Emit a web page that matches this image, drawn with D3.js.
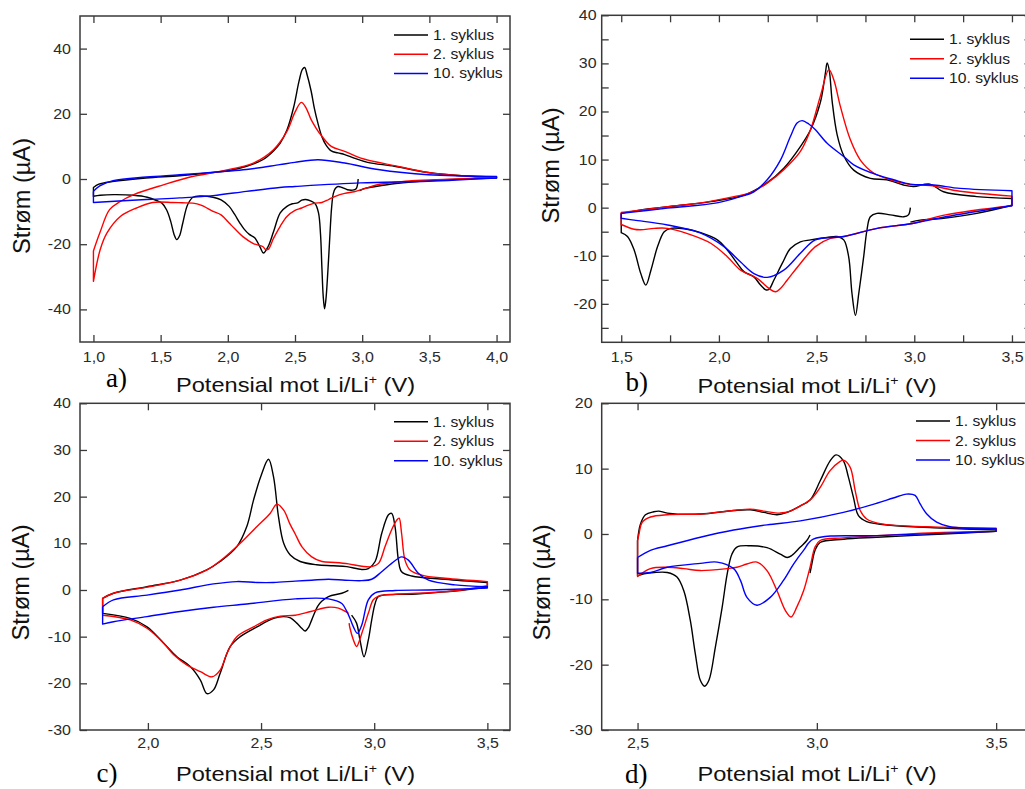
<!DOCTYPE html>
<html>
<head>
<meta charset="utf-8">
<script src="https://cdn.jsdelivr.net/npm/d3@7"></script>
<style>
  body { margin: 0; background: #fff; }
  svg { display: block; overflow: hidden; }
</style>
</head>
<body>
<svg id="fig" width="1025" height="789"></svg>
<script>
// ---- Series: cyclic voltammograms, [potential (V vs Li/Li+), current (µA)] ----
const sykluser = ["1. syklus", "2. syklus", "10. syklus"];
const farger = ["#000000", "#ff0000", "#0000ff"];

// Panel a
const aSyklus1 = [
  [2.97,0.0],[2.965,-1.8],[2.955,-3.0],[2.93,-3.4],[2.89,-3.3],[2.85,-2.6],[2.82,-2.3],[2.80,-2.9],
  [2.785,-4.5],[2.772,-9],[2.76,-17],[2.745,-28],[2.73,-37],[2.72,-39.8],[2.71,-36],[2.70,-27],
  [2.69,-17],[2.675,-10.4],[2.65,-7.6],[2.62,-6.8],[2.58,-6.3],[2.55,-6.5],[2.52,-7.3],[2.48,-7.6],
  [2.44,-8.4],[2.39,-10.4],[2.34,-16.2],[2.30,-20.7],[2.265,-22.7],[2.24,-20.9],[2.20,-18],[2.16,-17],
  [2.12,-15.3],[2.09,-13.5],[2.05,-10.8],[2.01,-8.4],[1.95,-6.4],[1.89,-5.6],[1.80,-5.2],[1.74,-5.6],
  [1.70,-8],[1.665,-13.5],[1.64,-17.5],[1.62,-18.6],[1.60,-17],[1.575,-13],[1.545,-9.5],[1.51,-7.4],
  [1.47,-6.6],[1.40,-5.6],[1.30,-5.0],[1.15,-4.8],[1.05,-5.0],[1.0,-5.3],[1.0,-2.6],[1.04,-1.6],
  [1.14,-0.8],[1.39,0.3],[1.64,1.0],[1.89,2.0],[2.01,2.6],[2.14,3.9],[2.26,5.9],[2.34,8.6],
  [2.39,11],[2.44,15],[2.49,22],[2.53,30],[2.555,33.6],[2.572,34.2],[2.59,32],[2.62,27],
  [2.645,21.5],[2.67,17.2],[2.70,13],[2.73,10.5],[2.77,8.6],[2.82,8.0],[2.87,7.5],[2.94,6.4],
  [3.04,5.1],[3.24,3.9],[3.49,2.0],[3.74,1.0],[4.0,0.6],[4.0,0.3],[3.75,0.0],[3.5,-0.5],
  [3.25,-1.4],[3.1,-2.3],[3.02,-2.9],[2.98,-3.6]
];
const aSyklus2 = [
  [4.0,0.5],[3.75,0.1],[3.5,-0.3],[3.37,-0.5],[3.25,-1.0],[3.12,-1.7],[3.0,-3.2],[2.94,-3.9],
  [2.87,-4.4],[2.80,-5.3],[2.75,-6.3],[2.70,-7.2],[2.65,-7.4],[2.60,-8.0],[2.55,-8.9],[2.50,-9.6],
  [2.44,-11.5],[2.39,-14.5],[2.34,-18.2],[2.30,-21.6],[2.28,-21.6],[2.26,-20.7],[2.19,-19.8],[2.11,-17.6],
  [2.05,-15.2],[2.01,-13.5],[1.95,-11],[1.89,-9.9],[1.80,-8],[1.74,-7.4],[1.66,-7.3],[1.59,-7.2],
  [1.44,-7.2],[1.32,-8.9],[1.20,-11.5],[1.10,-16.6],[1.05,-21.7],[1.0,-31.4],[1.0,-22.1],[1.047,-16.6],
  [1.12,-9.4],[1.20,-6.9],[1.30,-4.8],[1.52,-1.8],[1.72,0.6],[1.96,2.5],[2.19,4.9],[2.34,9.0],
  [2.44,14.6],[2.50,20.5],[2.547,23.5],[2.58,22],[2.62,18.2],[2.66,15.4],[2.70,13.1],[2.77,10],
  [2.87,8.5],[2.99,6.4],[3.24,4.1],[3.49,2.0],[3.74,1.0],[4.0,0.6]
];
const aSyklus10 = [
  [1.0,-3.8],[1.047,-2.1],[1.146,-0.5],[1.394,0.6],[1.642,1.3],[1.964,2.3],[2.138,2.9],[2.386,4.4],
  [2.498,5.1],[2.671,5.9],[2.87,4.9],[3.118,2.9],[3.49,1.3],[4.0,0.8],[4.0,0.3],[3.49,-0.7],
  [2.99,-1.2],[2.498,-2.3],[2.386,-2.6],[2.138,-3.8],[1.89,-5.1],[1.642,-5.8],[1.394,-6.3],[1.0,-7.2],
  [1.0,-3.8]
];

// Panel b
const bSyklus1 = [
  [2.98,0.0],[2.97,-1.5],[2.946,-1.9],[2.877,-1.5],[2.809,-1.2],[2.775,-1.9],[2.758,-4.6],[2.741,-10.2],
  [2.716,-17.8],[2.699,-22.4],[2.681,-17.8],[2.664,-10.2],[2.639,-6.7],[2.605,-6.0],[2.554,-6.2],[2.469,-6.7],
  [2.417,-7.1],[2.366,-8.5],[2.324,-11.6],[2.281,-15.1],[2.256,-17.0],[2.24,-17.1],[2.213,-16.1],[2.179,-14.4],
  [2.128,-13.3],[2.094,-11.6],[2.043,-8.8],[1.992,-6.7],[1.907,-5.2],[1.822,-4.4],[1.754,-4.3],[1.72,-5.0],
  [1.686,-8.1],[1.652,-13],[1.626,-16.1],[1.6,-13.7],[1.566,-8.8],[1.532,-6.0],[1.5,-5.2],[1.5,-1.2],
  [1.617,-0.35],[1.788,0.4],[1.958,1.25],[2.128,2.6],[2.247,5.2],[2.332,8.2],[2.417,12.7],[2.469,16.2],
  [2.52,22],[2.545,28],[2.554,30.1],[2.565,28.5],[2.58,22],[2.605,15.2],[2.639,10.8],[2.69,7.8],
  [2.775,6.1],[2.86,5.8],[2.945,4.7],[2.996,4.4],[3.08,4.9],[3.15,3.3],[3.32,2.3],[3.5,1.9],
  [3.5,0.5],[3.32,-1.2],[3.15,-2.2],[3.03,-2.6],[2.98,-3.0]
];
const bSyklus2 = [
  [3.5,0.4],[3.16,-1.5],[2.99,-3.3],[2.81,-4.3],[2.639,-6.0],[2.571,-6.4],[2.494,-8.1],[2.417,-11.6],
  [2.349,-15.1],[2.315,-16.8],[2.29,-17.5],[2.256,-16.8],[2.196,-14.7],[2.111,-13.0],[2.043,-10.2],[1.958,-7.4],
  [1.839,-5.4],[1.737,-4.3],[1.669,-4.3],[1.6,-4.6],[1.566,-4.5],[1.5,-3.5],[1.5,-1.0],[1.566,-0.7],
  [1.737,0.2],[1.907,1.0],[2.077,2.3],[2.162,3.1],[2.247,5.1],[2.332,7.9],[2.417,11.7],[2.469,16.2],
  [2.52,23.3],[2.563,28.7],[2.588,26.6],[2.622,21],[2.673,14.1],[2.724,9.9],[2.792,7.2],[2.877,5.8],
  [2.98,4.8],[3.08,4.6],[3.235,3.4],[3.5,2.4],[3.5,0.4]
];
const bSyklus10 = [
  [1.5,-1.2],[1.737,-0.1],[1.99,1.0],[2.11,2.3],[2.179,3.3],[2.247,5.8],[2.315,9.9],[2.366,14.8],
  [2.40,17.6],[2.426,18.1],[2.46,17.4],[2.494,16.2],[2.554,13.4],[2.64,10.6],[2.69,8.9],[2.81,6.8],
  [2.894,5.8],[2.98,4.9],[3.1,4.7],[3.235,4.0],[3.5,3.5],[3.5,0.4],[3.16,-1.9],[2.99,-3.3],
  [2.81,-4.3],[2.64,-6.0],[2.494,-6.7],[2.417,-9.5],[2.332,-13.0],[2.247,-14.5],[2.179,-13.7],[2.111,-11.3],
  [2.026,-8.1],[1.907,-5.3],[1.737,-3.6],[1.566,-2.6],[1.5,-2.2],[1.5,-1.2]
];

// Panel c
const cSyklus1 = [
  [2.886,-0.1],[2.857,-0.7],[2.798,-1.4],[2.768,-2.4],[2.75,-3.5],[2.724,-6.4],[2.71,-8.0],[2.695,-8.8],
  [2.68,-8.2],[2.658,-7.1],[2.63,-6.0],[2.6,-5.7],[2.555,-6.1],[2.482,-7.9],[2.408,-10.0],[2.364,-12.1],
  [2.319,-17.9],[2.29,-21.4],[2.261,-22.2],[2.232,-19.3],[2.187,-16.4],[2.128,-14.3],[2.07,-11.4],[1.996,-7.9],
  [1.922,-6.1],[1.8,-5.0],[1.8,-1.8],[1.848,-0.7],[1.996,0.7],[2.143,2.1],[2.26,4.3],[2.319,6.1],
  [2.393,9.3],[2.437,13.6],[2.467,19.3],[2.50,24.5],[2.533,28.0],[2.555,24.3],[2.577,15.7],[2.60,10.0],
  [2.629,7.5],[2.673,6.1],[2.746,5.4],[2.82,5.2],[2.879,5.0],[2.945,4.4],[2.974,4.6],[3.004,6.1],
  [3.033,12.1],[3.063,16.1],[3.077,16.4],[3.092,13.6],[3.107,6.4],[3.121,3.9],[3.166,3.0],[3.313,2.3],
  [3.5,1.6],[3.5,0.6],[3.313,-0.4],[3.166,-0.9],[3.019,-1.4],[3.004,-2.9],[2.989,-6.4],[2.974,-10.7],
  [2.955,-14.3],[2.937,-10.7],[2.922,-7.1],[2.90,-5.4]
];
const cSyklus2 = [
  [2.886,-5.0],[2.872,-4.6],[2.842,-3.9],[2.798,-3.7],[2.72,-4.6],[2.651,-5.4],[2.585,-5.6],[2.526,-6.4],
  [2.467,-7.9],[2.393,-10.0],[2.349,-13.6],[2.32,-17.1],[2.283,-18.6],[2.232,-17.5],[2.173,-16.1],[2.114,-13.9],
  [2.07,-11.4],[1.996,-8.2],[1.922,-6.4],[1.8,-5.4],[1.8,-1.8],[1.848,-0.7],[1.996,0.6],[2.143,2.1],
  [2.261,4.3],[2.334,6.8],[2.408,10],[2.482,13.6],[2.54,16.4],[2.57,18.4],[2.60,17.1],[2.629,14],
  [2.651,12],[2.68,9.3],[2.724,7.1],[2.769,6.1],[2.828,5.9],[2.886,5.6],[2.945,5.1],[2.989,5.0],
  [3.019,5.7],[3.048,9.3],[3.077,12.9],[3.10,15.0],[3.11,15.4],[3.121,12.1],[3.136,6.4],[3.158,4.3],
  [3.21,3.2],[3.313,2.5],[3.5,1.8],[3.5,0.9],[3.387,0],[3.24,-0.6],[3.092,-0.9],[3.019,-1.3],
  [2.996,-2.1],[2.974,-5.0],[2.945,-9.3],[2.922,-12.1],[2.908,-10.7],[2.893,-8.2],[2.889,-7.1]
];
const cSyklus10 = [
  [1.8,-3.6],[1.848,-2.1],[1.996,-1.1],[2.143,0],[2.29,1.3],[2.393,1.8],[2.482,1.6],[2.555,1.6],
  [2.651,1.9],[2.724,2.1],[2.798,2.3],[2.872,2.1],[2.945,2.0],[2.989,2.3],[3.033,3.9],[3.077,5.7],
  [3.121,7.1],[3.151,6.4],[3.195,3.6],[3.24,2.1],[3.357,1.1],[3.5,0.7],[3.5,0.4],[3.24,0],
  [3.092,-0.1],[3.004,-0.6],[2.974,-2.1],[2.945,-7.5],[2.926,-9.3],[2.908,-7.9],[2.893,-6.1],[2.879,-4.6],
  [2.857,-2.9],[2.798,-1.9],[2.651,-1.9],[2.437,-3.0],[2.29,-3.7],[2.143,-4.6],[1.996,-5.7],[1.848,-6.8],
  [1.8,-7.3],[1.8,-3.6]
];

// Panel d
const dSyklus1 = [
  [2.981,-0.15],[2.972,-1.0],[2.954,-2.0],[2.93,-3.3],[2.917,-3.6],[2.898,-3.1],[2.861,-2.1],[2.815,-1.8],
  [2.777,-2.0],[2.763,-3.1],[2.75,-6.1],[2.736,-11.2],[2.717,-17.3],[2.699,-22.4],[2.687,-23.3],[2.675,-22.4],
  [2.661,-18.3],[2.647,-13.2],[2.629,-8.7],[2.61,-6.6],[2.583,-5.9],[2.546,-5.9],[2.518,-6.1],[2.5,-6.4],
  [2.5,-1.0],[2.508,1.5],[2.522,2.95],[2.545,3.4],[2.559,3.5],[2.583,3.2],[2.675,3.05],[2.768,3.6],
  [2.815,3.7],[2.852,3.3],[2.889,2.95],[2.917,3.3],[2.954,4.3],[2.981,5.2],[3.009,8.1],[3.037,11.2],
  [3.054,12.1],[3.074,11.2],[3.088,8.7],[3.102,5.6],[3.116,2.8],[3.139,1.9],[3.213,1.3],[3.352,0.9],
  [3.5,0.6],[3.5,0.4],[3.352,0],[3.167,-0.5],[3.074,-0.8],[3.009,-1.3],[2.995,-2.5],[2.986,-4.6],
  [2.981,-6.0]
];
const dSyklus2 = [
  [2.5,-1.0],[2.504,0],[2.513,1.8],[2.536,2.6],[2.583,2.95],[2.675,3.05],[2.768,3.6],[2.815,3.8],
  [2.852,3.5],[2.898,3.2],[2.926,3.5],[2.954,4.3],[2.985,5.4],[3.009,7.1],[3.037,9.7],[3.065,11.1],
  [3.074,11.3],[3.093,10.2],[3.107,6.6],[3.121,3.6],[3.139,2.3],[3.185,1.5],[3.306,1.1],[3.5,0.9],
  [3.5,0.4],[3.352,0.25],[3.167,-0.25],[3.074,-0.6],[3.009,-1.0],[2.995,-2.0],[2.981,-5.1],[2.963,-8.7],
  [2.944,-11.2],[2.928,-12.7],[2.912,-11.7],[2.889,-8.7],[2.861,-5.6],[2.833,-4.3],[2.805,-4.6],[2.777,-5.1],
  [2.75,-5.3],[2.675,-5.6],[2.629,-5.3],[2.583,-5.1],[2.536,-5.3],[2.5,-6.5],[2.5,-1.0]
];
const dSyklus10 = [
  [2.5,-3.6],[2.536,-2.5],[2.583,-1.8],[2.675,-0.5],[2.768,0.6],[2.861,1.4],[2.954,2.0],[3.074,3.3],
  [3.167,4.7],[3.213,5.5],[3.25,6.1],[3.274,5.9],[3.288,4.6],[3.306,3.1],[3.334,1.8],[3.371,1.1],
  [3.5,0.8],[3.5,0.4],[3.352,0.1],[3.167,-0.25],[2.99,-0.8],[2.963,-2.5],[2.935,-4.6],[2.907,-7.1],
  [2.87,-9.7],[2.833,-10.9],[2.805,-9.7],[2.787,-7.1],[2.768,-5.3],[2.722,-4.3],[2.675,-4.5],[2.583,-5.1],
  [2.536,-5.9],[2.5,-6.0],[2.5,-3.6]
];

// ---- Axis ticks ----
const aXTicks = [1.0, 1.5, 2.0, 2.5, 3.0, 3.5, 4.0];
const aYTicks = [-40, -20, 0, 20, 40];
const bXTicks = [1.5, 2.0, 2.5, 3.0, 3.5];
const bXMinor = [1.75, 2.25, 2.75, 3.25];
const bYTicks = [-20, -10, 0, 10, 20, 30, 40];
const bYMinor = [-25, -15, -5, 5, 15, 25, 35];
const cXTicks = [2.0, 2.5, 3.0, 3.5];
const cYTicks = [-30, -20, -10, 0, 10, 20, 30, 40];
const dXTicks = [2.5, 3.0, 3.5];
const dYTicks = [-30, -20, -10, 0, 10, 20];

const xTitle = "Potensial mot Li/Li";
const yTitle = "Strøm (µA)";

// ---- Panel layout ----
const panels = [
  { label: "a)", series: [aSyklus1, aSyklus2, aSyklus10],
    box: [80, 510, 16, 342], xDom: [0.9, 4.1], yDom: [-50, 50],
    xt: aXTicks, xm: [], yt: aYTicks, ym: [],
    xPad: 10, yPad: 8, legend: [394, 35, 19.2],
    yTitlePos: [30, 196], xTitlePos: [295.5, 392], labelPos: [106, 387] },
  { label: "b)", series: [bSyklus1, bSyklus2, bSyklus10],
    box: [601.7, 1031.5, 15.3, 342.3], xDom: [1.4, 3.6], yDom: [-28, 40],
    xt: bXTicks, xm: bXMinor, yt: bYTicks, ym: bYMinor,
    xPad: 10, yPad: 4.5, legend: [910, 39.3, 19.5],
    yTitlePos: [559, 165.5], xTitlePos: [817, 393], labelPos: [625.5, 390.5] },
  { label: "c)", series: [cSyklus1, cSyklus2, cSyklus10],
    box: [80, 510, 403.3, 730], xDom: [1.7, 3.6], yDom: [-30, 40],
    xt: cXTicks, xm: [], yt: cYTicks, ym: [],
    xPad: 8.5, yPad: 8, legend: [394, 421.7, 19.5],
    yTitlePos: [29, 582.5], xTitlePos: [295.5, 781], labelPos: [96.5, 781.5] },
  { label: "d)", series: [dSyklus1, dSyklus2, dSyklus10],
    box: [601.7, 1032, 403.3, 730], xDom: [2.4, 3.6], yDom: [-30, 20],
    xt: dXTicks, xm: [], yt: dYTicks, ym: [],
    xPad: 8.5, yPad: 8, legend: [916, 421, 19.5],
    yTitlePos: [549.5, 582.5], xTitlePos: [817, 781], labelPos: [625, 783] }
];

const svg = d3.select("#fig");
const sans = "'Liberation Sans', Arial, Helvetica, sans-serif";
const serif = "'Liberation Serif', 'Times New Roman', serif";
const fmtX = d => d3.format(".1f")(d).replace(".", ",");
const fmtY = d => String(d);
const TICK = 7;

// Smooth path through a scan; the vertical jumps at the switching
// potentials stay straight, everything else is a centripetal spline.
function scanPath(series, x, y) {
  const spline = d3.line().x(d => x(d[0])).y(d => y(d[1]))
    .curve(d3.curveCatmullRom.alpha(0.5));
  const runs = [];
  let run = [series[0]];
  for (let i = 1; i < series.length; i++) {
    if (Math.abs(series[i][0] - series[i - 1][0]) < 1e-9) {
      runs.push(run);
      run = [series[i]];
    } else {
      run.push(series[i]);
    }
  }
  runs.push(run);
  return runs.map((r, k) => {
    const d = r.length > 1 ? spline(r)
      : `M${x(r[0][0])},${y(r[0][1])}`;
    return k === 0 ? d : "L" + d.slice(1);
  }).join("");
}

panels.forEach(p => {
  const [x0, x1, y0, y1] = p.box;
  const x = d3.scaleLinear().domain(p.xDom).range([x0, x1]);
  const y = d3.scaleLinear().domain(p.yDom).range([y1, y0]);
  const g = svg.append("g");

  const xAll = p.xt.concat(p.xm);
  const yAll = p.yt.concat(p.ym);
  const xLab = d => p.xt.includes(d) ? fmtX(d) : "";
  const yLab = d => p.yt.includes(d) ? fmtY(d) : "";

  const styleAxis = (sel, stretch) => {
    sel.select(".domain").remove();
    sel.selectAll(".tick line").attr("stroke", "#3a3a3a").attr("stroke-width", 1.3);
    sel.selectAll(".tick text")
      .attr("font-family", sans).attr("font-size", 14).attr("fill", "#2a2a2a")
      .attr("transform", stretch ? "scale(1.14,1)" : null);
  };

  g.append("g").attr("transform", `translate(0,${y1})`)
    .call(d3.axisBottom(x).tickValues(xAll).tickFormat(xLab)
      .tickSizeInner(-TICK).tickSizeOuter(0).tickPadding(p.xPad))
    .call(s => styleAxis(s, true));
  g.append("g").attr("transform", `translate(0,${y0})`)
    .call(d3.axisTop(x).tickValues(xAll).tickFormat("")
      .tickSizeInner(-TICK).tickSizeOuter(0))
    .call(s => styleAxis(s, false));
  g.append("g").attr("transform", `translate(${x0},0)`)
    .call(d3.axisLeft(y).tickValues(yAll).tickFormat(yLab)
      .tickSizeInner(-TICK).tickSizeOuter(0).tickPadding(p.yPad))
    .call(s => styleAxis(s, true));
  g.append("g").attr("transform", `translate(${x1},0)`)
    .call(d3.axisRight(y).tickValues(yAll).tickFormat("")
      .tickSizeInner(-TICK).tickSizeOuter(0))
    .call(s => styleAxis(s, false));

  // plot frame
  g.append("rect")
    .attr("x", x0).attr("y", y0).attr("width", x1 - x0).attr("height", y1 - y0)
    .attr("fill", "none").attr("stroke", "#3a3a3a").attr("stroke-width", 1.5);

  // voltammogram traces
  p.series.forEach((s, i) => {
    g.append("path")
      .attr("d", scanPath(s, x, y))
      .attr("fill", "none")
      .attr("stroke", farger[i])
      .attr("stroke-width", 1.4)
      .attr("stroke-linejoin", "round");
  });

  // legend
  const [lx, ly, ldy] = p.legend;
  sykluser.forEach((name, i) => {
    const yy = ly + i * ldy;
    g.append("line")
      .attr("x1", lx).attr("x2", lx + 34).attr("y1", yy).attr("y2", yy)
      .attr("stroke", farger[i]).attr("stroke-width", 1.5);
    g.append("text")
      .attr("transform", `translate(${lx + 39},${yy + 5}) scale(1.12,1)`)
      .attr("font-family", sans).attr("font-size", 14).attr("fill", "#1a1a1a")
      .text(name);
  });

  // y-axis title
  g.append("text")
    .attr("transform", `translate(${p.yTitlePos[0]},${p.yTitlePos[1]}) rotate(-90)`)
    .attr("text-anchor", "middle")
    .attr("font-family", sans).attr("font-size", 24).attr("fill", "#111")
    .attr("textLength", 116).attr("lengthAdjust", "spacingAndGlyphs")
    .text(yTitle);

  // x-axis title with superscript
  const xt = g.append("text")
    .attr("transform", `translate(${p.xTitlePos[0]},${p.xTitlePos[1]}) scale(1.18,1)`)
    .attr("text-anchor", "middle")
    .attr("font-family", sans).attr("font-size", 20).attr("fill", "#111");
  xt.append("tspan").text(xTitle);
  xt.append("tspan").attr("font-size", 12).attr("dy", -8).text("+");
  xt.append("tspan").attr("dy", 8).text(" (V)");

  // panel letter
  g.append("text")
    .attr("x", p.labelPos[0]).attr("y", p.labelPos[1])
    .attr("font-family", serif).attr("font-size", 27).attr("fill", "#000")
    .text(p.label);
});
</script>
</body>
</html>
